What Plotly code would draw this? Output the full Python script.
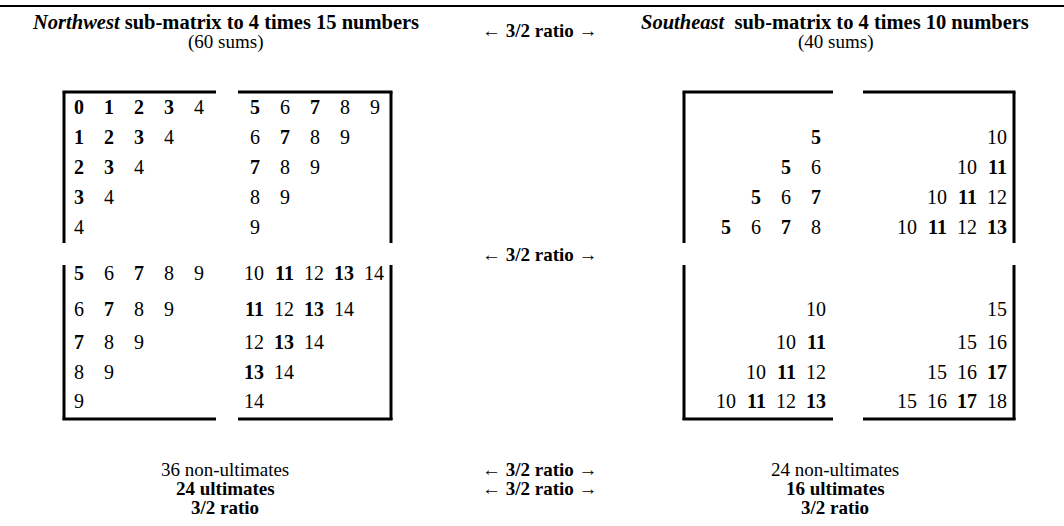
import plotly.graph_objects as go

# ---------------- data ----------------
nw_title = "Northwest"
nw_title_rest = "sub-matrix to 4 times 15 numbers"
nw_sub = "(60 sums)"
se_title = "Southeast"
se_title_rest = "sub-matrix to 4 times 10 numbers"
se_sub = "(40 sums)"
ratio_text = "3/2 ratio"

nw_top_left = [[0, 1, 2, 3, 4], [1, 2, 3, 4], [2, 3, 4], [3, 4], [4]]
nw_top_right = [[5, 6, 7, 8, 9], [6, 7, 8, 9], [7, 8, 9], [8, 9], [9]]
nw_bot_left = [[5, 6, 7, 8, 9], [6, 7, 8, 9], [7, 8, 9], [8, 9], [9]]
nw_bot_right = [[10, 11, 12, 13, 14], [11, 12, 13, 14], [12, 13, 14], [13, 14], [14]]
nw_bold = [0, 1, 2, 3, 5, 7, 11, 13]

se_top_left = [[], [5], [5, 6], [5, 6, 7], [5, 6, 7, 8]]
se_top_right = [[], [10], [10, 11], [10, 11, 12], [10, 11, 12, 13]]
se_bot_left = [[], [10], [10, 11], [10, 11, 12], [10, 11, 12, 13]]
se_bot_right = [[], [15], [15, 16], [15, 16, 17], [15, 16, 17, 18]]
se_bold = [5, 7, 11, 13, 17]

nw_footer = ["36 non-ultimates", "24 ultimates", "3/2 ratio"]
se_footer = ["24 non-ultimates", "16 ultimates", "3/2 ratio"]
footer_bold = [False, True, True]

# ---------------- layout constants ----------------
W, H = 1064, 526
FONT = "Liberation Serif"
FS = 19
FS_NUM = 20
FS_TITLE = 20.5
LW = 3

top_rows = [107, 137, 167, 197, 227]
bot_rows = [273, 309, 342, 372, 401]

fig = go.Figure()
annotations = []
shapes = []


def txt(x, y, s, xanchor="center", size=FS):
    annotations.append(dict(x=x, y=y, xref="x", yref="y", text=s, showarrow=False,
                            xanchor=xanchor, yanchor="middle",
                            font=dict(family=FONT, size=size, color="black")))


def line(x0, y0, x1, y1, w=LW, xref="x"):
    shapes.append(dict(type="line", xref=xref, yref="y", x0=x0, y0=y0, x1=x1, y1=y1,
                       line=dict(color="black", width=w), layer="above"))


def fmt(v, bold_set):
    return f"<b>{v}</b>" if v in bold_set else str(v)


# top rule (full width)
line(0, 6, 1, 6, w=2, xref="paper")

# titles
txt(225, 22, f"<b><i>{nw_title}</i> {nw_title_rest}</b>", size=FS_TITLE)
txt(225, 42, nw_sub)
txt(540, 30, f"← <b>{ratio_text}</b> →")
txt(835, 22, f"<b><i>{se_title}</i>\u00a0\u00a0{se_title_rest}</b>", size=FS_TITLE)
txt(835, 42, se_sub)
txt(540, 254, f"← <b>{ratio_text}</b> →")


# NW blocks (left aligned grid, centered cells)
def nw_block(data, x0, rows):
    for i, row in enumerate(data):
        for j, v in enumerate(row):
            txt(x0 + 30 * j, rows[i], fmt(v, nw_bold), size=FS_NUM)


nw_block(nw_top_left, 79, top_rows)
nw_block(nw_top_right, 255, top_rows)
nw_block(nw_bot_left, 79, bot_rows)
nw_block(nw_bot_right, 254, bot_rows)


# SE blocks (right aligned)
def se_block(data, xr, rows):
    for i, row in enumerate(data):
        n = len(row)
        for j, v in enumerate(row):
            txt(xr - 30 * (n - 1 - j), rows[i], fmt(v, se_bold), xanchor="right", size=FS_NUM)


se_block(se_top_left, 823, top_rows)
se_block(se_top_right, 1009, top_rows)
se_block(se_bot_left, 828, bot_rows)
se_block(se_bot_right, 1009, bot_rows)


# brackets
def brackets(lx, lmid, rmid, rx):
    # top blocks
    line(lx, 92, lx, 243)
    line(lx - 1.5, 92, lmid, 92)
    line(rmid, 92, rx + 1.5, 92)
    line(rx, 92, rx, 243)
    # bottom blocks
    line(lx, 265, lx, 420)
    line(lx - 1.5, 419, lmid, 419)
    line(rmid, 419, rx + 1.5, 419)
    line(rx, 265, rx, 420)


brackets(64, 216, 238, 391)
brackets(684, 833, 863, 1014)

# footers
for k in range(3):
    s1 = f"<b>{nw_footer[k]}</b>" if footer_bold[k] else nw_footer[k]
    s2 = f"<b>{se_footer[k]}</b>" if footer_bold[k] else se_footer[k]
    txt(225, 469 + 19 * k, s1)
    txt(835, 469 + 19 * k, s2)
txt(540, 469, f"← <b>{ratio_text}</b> →")
txt(540, 488, f"← <b>{ratio_text}</b> →")

fig.update_layout(
    width=W, height=H,
    margin=dict(l=0, r=0, t=0, b=0),
    paper_bgcolor="white", plot_bgcolor="white",
    xaxis=dict(range=[0, W], visible=False, fixedrange=True),
    yaxis=dict(range=[H, 0], visible=False, fixedrange=True),
    annotations=annotations, shapes=shapes, showlegend=False,
)

fig.write_html("out.html", config={"displayModeBar": False},
               post_script="document.body.style.margin='0';document.body.style.overflow='hidden';")
